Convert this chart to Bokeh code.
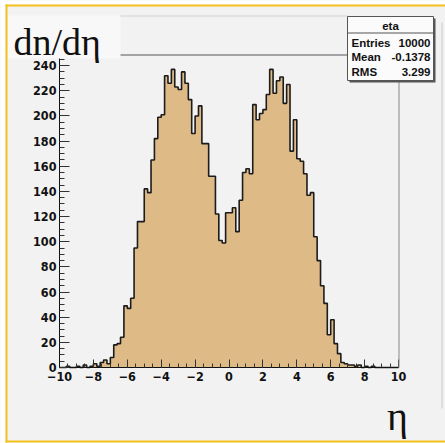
import numpy as np
from bokeh.plotting import figure
from bokeh.models import Label, BoxAnnotation, FixedTicker, Range1d
from bokeh.embed import file_html
from bokeh.resources import INLINE

# ---- data -------------------------------------------------------------
eta_min = -10.0
eta_max = 10.0
counts = [
    0, 0, 1, 0, 0, 1, 0, 2, 0, 1,
    3, 1, 4, 6, 3, 8, 18, 19, 24, 49,
    47, 55, 95, 116, 116, 142, 139, 165, 182, 199,
    201, 232, 226, 237, 223, 221, 235, 226, 213, 186,
    200, 208, 178, 178, 152, 152, 122, 101, 99, 123,
    123, 127, 108, 133, 155, 158, 154, 209, 197, 202,
    205, 217, 237, 218, 228, 231, 210, 225, 172, 197,
    166, 164, 154, 137, 139, 104, 85, 65, 51, 26,
    38, 19, 11, 4, 3, 2, 2, 1, 2, 0,
    1, 0, 1, 0, 0, 0, 0, 0, 0, 0,
]
x_ticks = [-10, -8, -6, -4, -2, 0, 2, 4, 6, 8, 10]
y_ticks = [0, 20, 40, 60, 80, 100, 120, 140, 160, 180, 200, 220, 240]
stat_title = "eta"
stat_names = ["Entries", "Mean", "RMS"]
stat_values = ["10000", "-0.1378", "3.299"]
y_title = "dn/dη"
x_title = "η"

# ---- derived -----------------------------------------------------------
n_bins = len(counts)
edges = np.linspace(eta_min, eta_max, n_bins + 1)
counts_ext = list(counts) + [counts[-1]]
ymax = max(counts) * 1.05
x_minor = list(np.arange(eta_min, eta_max + 0.001, 0.5))
y_minor = list(range(0, 250, 5))

# ---- layout (pixels) ---------------------------------------------------
W, H = 445, 443
FL, FR, FT, FB = 59, 398, 54, 367          # frame box in canvas pixels
kx = (FR - FL) / (eta_max - eta_min)
ky = (FB - FT) / ymax
x_range = Range1d(eta_min - FL / kx, eta_max + (W - FR) / kx)
y_range = Range1d(0 - (H - FB) / ky, ymax + FT / ky)

BG = "#f2f2f2"
FILL = "#deba87"
YELLOW = "#f6c11c"
TICKFONT = "DejaVu Sans Condensed, Liberation Sans"
STATFONT = "Liberation Sans"

p = figure(width=W, height=H, x_range=x_range, y_range=y_range,
           output_backend="svg", toolbar_location=None, title=None,
           min_border=0)
p.background_fill_color = BG
p.border_fill_color = BG
p.outline_line_color = None
p.grid.visible = False

# histogram
p.varea_step(x=edges, y1=[0] * (n_bins + 1), y2=counts_ext, step_mode="after",
             fill_color=FILL, fill_alpha=1.0)
p.step(x=edges, y=counts_ext, mode="after", line_color="#1c1c1c", line_width=1.6)

# axes (drawn at the frame edges)
xa = p.xaxis[0]
ya = p.yaxis[0]
xa.fixed_location = 0
ya.fixed_location = eta_min
xa.bounds = (eta_min, eta_max)
ya.bounds = (0, ymax)
xa.ticker = FixedTicker(ticks=x_ticks, minor_ticks=x_minor)
ya.ticker = FixedTicker(ticks=y_ticks, minor_ticks=y_minor)
for ax, maj, mnr in ((xa, 8, 4), (ya, 10, 5)):
    ax.axis_line_color = "#111111"
    ax.axis_line_width = 1
    ax.major_tick_in = maj
    ax.major_tick_out = 0
    ax.minor_tick_in = mnr
    ax.minor_tick_out = 0
    ax.major_tick_line_color = "#333333"
    ax.minor_tick_line_color = "#333333"
    ax.major_label_text_font = TICKFONT
    ax.major_label_text_font_size = "12.5px"
    ax.major_label_text_font_style = "bold"
    ax.major_label_text_color = "#111111"
xa.major_label_standoff = 4
ya.major_label_standoff = 3


def box(l, r, t, b, color, line=None, alpha=1.0):
    ba = BoxAnnotation(left=l, right=r, top=t, bottom=b,
                       left_units="canvas", right_units="canvas",
                       top_units="canvas", bottom_units="canvas",
                       fill_color=color, fill_alpha=alpha,
                       line_color=line, line_alpha=1.0 if line else 0.0,
                       line_width=1)
    p.add_layout(ba)
    return ba


def label(x, y, text, size, font, align="left", baseline="middle", style="normal"):
    lb = Label(x=x, y=y, x_units="canvas", y_units="canvas", text=text,
               text_font=font, text_font_size=size, text_align=align,
               text_baseline=baseline, text_font_style=style, text_color="#111111")
    p.add_layout(lb)
    return lb


# frame top / right edges
box(FL, FR, FT, FT + 1, "#555555")
box(FR, FR + 1, FT, FB, "#888888")

# title pave
box(7, 120, 15, 58, "#f8f8f8")
box(120, 347, 15, 16, "#d0d0d0")
label(13, 41, y_title, "38px", "Liberation Serif", baseline="alphabetic")

# stat box
box(349, 435, 18, 82, "#555555")
box(347, 433, 16, 80, "#fbfbfb", line="#555555")
box(347, 433, 32, 33, "#555555")
label(390, 25, stat_title, "11.5px", STATFONT, align="center", style="bold")
for i, (nm, vl) in enumerate(zip(stat_names, stat_values)):
    yy = 42 + i * 14.7
    label(351, yy, nm, "11.5px", STATFONT, align="left", style="bold")
    label(430, yy, vl, "11.5px", STATFONT, align="right", style="bold")

# x axis title
label(397, 416, x_title, "40px", "Liberation Serif", align="center", baseline="alphabetic")

# canvas decoration
box(441, 442, 22, 408, "#c8c8c8")
box(0, 5, 0, H, "white")
box(0, W, 0, 4, "white")
box(0, W, 442, H, "white")
box(5, W, 4, 6, YELLOW)
box(5, 7, 4, 442, YELLOW)
box(5, W, 440, 442, YELLOW)

open("out.html", "w").write(file_html(p, INLINE))
